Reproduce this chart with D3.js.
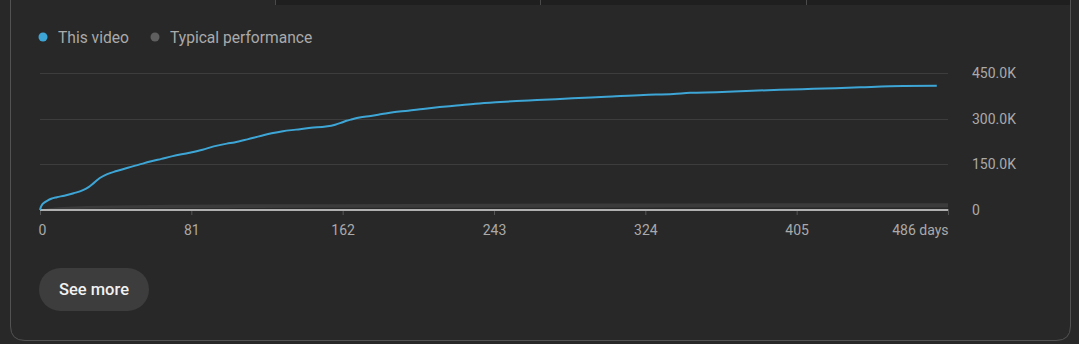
<!DOCTYPE html>
<html>
<head>
<meta charset="utf-8">
<script src="https://cdn.jsdelivr.net/npm/d3@7"></script>
<style>
  body { margin: 0; background: #282828; font-family: Roboto, "Noto Sans", sans-serif; }
</style>
</head>
<body>
<div id="root"></div>
<script>
// this video: cumulative views by day since publish
const videoDays = [0, 0.5, 1, 2, 4, 6, 9, 13, 18, 23, 26, 29, 32, 36, 41, 47, 53, 59, 65, 71, 80, 87, 93,
  100, 104, 111, 118, 124, 130, 137, 145, 153, 158, 161, 164, 167, 171, 177, 183, 189, 197, 205, 214,
  223, 233, 244, 255, 266, 285, 303, 323, 339, 348, 362, 378, 396, 414, 439, 462, 480];
const videoViews = [0, 10000, 16000, 23000, 31000, 37000, 42000, 47000, 55000, 65000, 75000, 90000, 105000,
  118000, 128000, 139000, 149000, 159000, 168000, 177000, 188000, 198000, 209000,
  218000, 222000, 232000, 243000, 252000, 259000, 264000, 270000, 274000, 280000, 286000, 293000,
  298000, 304000, 309000, 315000, 321000, 326000, 332000, 338000,
  343000, 349000, 354000, 358000, 361000, 367000, 372000, 378000, 381000, 385000, 387000, 391000,
  395000, 398000, 403000, 407000, 408000];

// typical performance range
const typicalDays = [0, 10, 40, 100, 200, 300, 400, 486];
const typicalLow = [0, 2000, 5000, 6000, 7000, 7500, 8000, 8000];
const typicalHigh = [0, 9000, 15000, 18000, 20000, 21000, 22000, 22000];

const xTicks = [0, 81, 162, 243, 324, 405, 486];
const yTicks = [0, 150000, 300000, 450000];
const yTickLabels = ["0", "150.0K", "300.0K", "450.0K"];
const legendNames = ["This video", "Typical performance"];

const W = 1079, H = 344;

const svg = d3.select("#root")
  .append("svg")
  .attr("width", W)
  .attr("height", H)
  .style("display", "block");

// top tab strip
svg.append("rect")
  .attr("x", 275).attr("y", 0)
  .attr("width", 796).attr("height", 5)
  .attr("fill", "#1f1f1f");
[275, 540, 806].forEach(x => {
  svg.append("line")
    .attr("x1", x + 0.5).attr("x2", x + 0.5)
    .attr("y1", 0).attr("y2", 5)
    .attr("stroke", "#4a4a4a");
});

// card outline (no top edge)
svg.append("path")
  .attr("d", "M10.5,0 V326 Q10.5,340.5 25,340.5 H1056 Q1070.5,340.5 1070.5,326 V0")
  .attr("fill", "none")
  .attr("stroke", "#525252")
  .attr("stroke-width", 1);

// legend
const legend = svg.append("g");
const legendX = [43, 155];
const legendColors = ["#3ea6d6", "#5f5f5f"];
legendNames.forEach((name, i) => {
  legend.append("circle")
    .attr("cx", legendX[i]).attr("cy", 37).attr("r", 4.5)
    .attr("fill", legendColors[i]);
  legend.append("text")
    .attr("x", legendX[i] + 15).attr("y", 42.5)
    .attr("fill", "#aaaaaa")
    .attr("font-size", 15.6)
    .text(name);
});

const xScale = d3.scaleLinear()
  .domain([0, 486])
  .range([40, 948]);

const yScale = d3.scaleLinear()
  .domain([0, 450000])
  .range([210, 73]);

// gridlines
svg.append("g")
  .selectAll("line")
  .data(yTicks.slice(1))
  .enter()
  .append("line")
  .attr("x1", xScale(0)).attr("x2", xScale(486))
  .attr("y1", d => Math.round(yScale(d)) + 0.5)
  .attr("y2", d => Math.round(yScale(d)) + 0.5)
  .attr("stroke", "#3d3d3d");

// y labels
svg.append("g")
  .selectAll("text")
  .data(yTicks)
  .enter()
  .append("text")
  .attr("x", 972)
  .attr("y", d => yScale(d) + 5)
  .attr("fill", "#aaaaaa")
  .attr("font-size", 14)
  .text((d, i) => yTickLabels[i]);

// typical performance band
const typical = typicalDays.map((d, i) => ({ day: d, lo: typicalLow[i], hi: typicalHigh[i] }));
svg.append("path")
  .datum(typical)
  .attr("d", d3.area()
    .x(d => xScale(d.day))
    .y0(d => yScale(d.lo))
    .y1(d => yScale(d.hi))
    .curve(d3.curveMonotoneX))
  .attr("fill", "#3b3b3b");

// x axis
const xAxis = d3.axisBottom(xScale)
  .tickValues(xTicks)
  .tickSize(6)
  .tickSizeOuter(0)
  .tickFormat(d => d === 486 ? "486 days" : d);

const gx = svg.append("g")
  .attr("transform", "translate(0, 209)")
  .call(xAxis);
gx.select(".domain").remove();
gx.selectAll(".tick line").attr("stroke", "#555555");
gx.selectAll(".tick text")
  .attr("fill", "#aaaaaa")
  .attr("font-size", 14)
  .attr("font-family", "Roboto, sans-serif")
  .attr("dy", "0")
  .attr("y", 26);
gx.selectAll(".tick")
  .filter(d => d === 486)
  .select("text")
  .attr("text-anchor", "end");
gx.selectAll(".tick")
  .filter(d => d === 0)
  .select("text")
  .attr("dx", 2);

// baseline
svg.append("line")
  .attr("x1", xScale(0)).attr("x2", xScale(486))
  .attr("y1", 210).attr("y2", 210)
  .attr("stroke", "#b0b0b0")
  .attr("stroke-width", 2);

// this video line
const video = videoDays.map((d, i) => ({ day: d, v: videoViews[i] }));
svg.append("path")
  .datum(video)
  .attr("d", d3.line()
    .x(d => xScale(d.day))
    .y(d => yScale(d.v))
    .curve(d3.curveMonotoneX))
  .attr("fill", "none")
  .attr("stroke", "#3ea6d6")
  .attr("stroke-width", 2);

// see more button
svg.append("rect")
  .attr("x", 39).attr("y", 268)
  .attr("width", 110).attr("height", 43)
  .attr("rx", 21.5)
  .attr("fill", "#3d3d3d");
svg.append("text")
  .attr("x", 94).attr("y", 295)
  .attr("text-anchor", "middle")
  .attr("fill", "#f1f1f1")
  .attr("font-size", 16.5)
  .attr("font-weight", 500)
  .text("See more");
</script>
</body>
</html>
